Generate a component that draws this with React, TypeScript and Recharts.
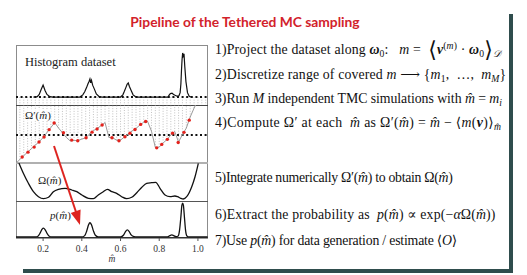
import React from 'react';
import { LineChart, ComposedChart, Line, Scatter, XAxis, YAxis, ReferenceLine } from 'recharts';

// shared m-hat axis
const M_DOMAIN: [number, number] = [0.06, 1.052];
const M_TICKS = [0.2, 0.4, 0.6, 0.8, 1.0];

// top panel: histogram of the projected dataset
const HIST_M = [
  0.15, 0.17, 0.18, 0.19, 0.195, 0.2, 0.205, 0.21, 0.22, 0.235, 0.25,
  0.39, 0.405, 0.415, 0.425, 0.432, 0.438, 0.442, 0.446, 0.45, 0.456, 0.465, 0.475, 0.49, 0.505,
  0.6, 0.612, 0.62, 0.628, 0.634, 0.64, 0.646, 0.655, 0.665, 0.68,
  0.845, 0.852, 0.858, 0.866, 0.874, 0.882, 0.892, 0.902, 0.908, 0.912, 0.915, 0.918, 0.921, 0.924, 0.928, 0.932, 0.938, 0.946, 0.955, 0.965,
];
const HIST_COUNT = [
  0, 0.01, 0.06, 0.17, 0.22, 0.27, 0.21, 0.15, 0.06, 0.01, 0,
  0, 0.05, 0.12, 0.22, 0.3, 0.36, 0.41, 0.32, 0.38, 0.27, 0.18, 0.07, 0.01, 0,
  0, 0.05, 0.13, 0.22, 0.29, 0.32, 0.24, 0.15, 0.05, 0,
  0, 0.05, 0.08, 0.09, 0.06, 0.04, 0.02, 0.03, 0.1, 0.3, 0.6, 0.85, 1.0, 0.93, 0.98, 0.7, 0.35, 0.1, 0.02, 0,
];

// TMC grid m_i and Omega'(m) read at each of them
const GRID_M = [
  0.06, 0.08, 0.1, 0.12, 0.14, 0.16, 0.18, 0.2, 0.22, 0.24, 0.26, 0.28, 0.3, 0.32, 0.34, 0.36, 0.38,
  0.4, 0.42, 0.44, 0.46, 0.48, 0.5, 0.52, 0.54, 0.56, 0.58, 0.6, 0.62, 0.64, 0.66, 0.68, 0.7, 0.72,
  0.74, 0.76, 0.78, 0.8, 0.82, 0.84, 0.86, 0.88, 0.9, 0.92, 0.94, 0.96, 0.98, 1.0, 1.02, 1.04,
];
const DERIV = [
  -0.145, -0.126, -0.106, -0.088, -0.07, -0.052, -0.034, -0.013, 0.013, 0.039, 0.064, 0.036, 0.012, -0.012, -0.03, -0.028, -0.028,
  -0.021, -0.014, 0.005, 0.023, 0.034, 0.049, 0.064, -0.012, -0.014, -0.027, -0.026, -0.01, 0.005, 0.021, 0.034, 0.052, 0.066,
  0.07, 0.02, -0.064, -0.062, -0.041, -0.023, 0.0, 0.018, -0.036, 0.003, 0.036, 0.093, 0.139, 0.18, null, null,
];

// red markers: the simulated points
const RED_M = [
  0.092, 0.122, 0.154, 0.179, 0.205, 0.231, 0.257, 0.305, 0.348, 0.379, 0.422, 0.453, 0.479, 0.505,
  0.556, 0.592, 0.623, 0.649, 0.675, 0.704, 0.73, 0.787, 0.813, 0.842, 0.869, 0.898, 0.928, 0.955,
];
const RED_V = [
  -0.113, -0.088, -0.062, -0.036, -0.01, 0.028, 0.062, 0.012, -0.026, -0.029, -0.014, 0.015, 0.031, 0.052,
  -0.014, -0.029, -0.009, 0.009, 0.029, 0.055, 0.07, -0.066, -0.048, -0.022, 0.01, -0.038, 0.014, 0.077,
];

// Omega(m)
const OMEGA_M = [
  0.075, 0.098, 0.124, 0.15, 0.176, 0.202, 0.228, 0.253, 0.279, 0.314, 0.348, 0.374, 0.4, 0.434, 0.46,
  0.485, 0.511, 0.532, 0.555, 0.58, 0.606, 0.632, 0.658, 0.684, 0.71, 0.735, 0.761, 0.782, 0.804,
  0.83, 0.856, 0.881, 0.895, 0.911, 0.924, 0.942, 0.968, 0.985, 1.002,
];
const OMEGA_V = [
  3.6, 2.57, 1.57, 0.73, 0.23, 0.03, 0.17, 0.73, 0.97, 1.07, 0.9, 0.73, 0.4, 0.07, 0.03,
  0.4, 0.73, 0.97, 0.73, 0.57, 0.23, 0.03, 0.17, 0.63, 1.17, 1.57, 1.63, 1.67, 1.07,
  0.4, 0.23, 0.3, 0.23, 0.07, 0.0, 0.23, 1.23, 2.23, 3.57,
];

// p(m)
const PROB_M = [
  0.06, 0.16, 0.175, 0.185, 0.195, 0.202, 0.21, 0.22, 0.23, 0.245,
  0.4, 0.415, 0.425, 0.435, 0.442, 0.45, 0.46, 0.47, 0.485,
  0.6, 0.615, 0.625, 0.635, 0.645, 0.655, 0.67, 0.685,
  0.84, 0.855, 0.865, 0.875, 0.887, 0.898, 0.905, 0.912, 0.917, 0.921, 0.925, 0.93, 0.936, 0.943, 0.955, 1.05,
];
const PROB_V = [
  0, 0, 0.03, 0.12, 0.23, 0.26, 0.22, 0.11, 0.03, 0,
  0, 0.04, 0.17, 0.36, 0.42, 0.36, 0.18, 0.05, 0,
  0, 0.05, 0.15, 0.21, 0.16, 0.06, 0.01, 0,
  0, 0.04, 0.06, 0.04, 0.01, 0.03, 0.2, 0.6, 0.93, 1.0, 0.93, 0.6, 0.2, 0.03, 0, 0,
];

const hist = HIST_M.map((m, i) => ({ m, v: HIST_COUNT[i] }));
const deriv = GRID_M.map((m, i) => ({ m, v: DERIV[i] }));
const red = RED_M.map((m, i) => ({ m, v: RED_V[i] }));
const omega = OMEGA_M.map((m, i) => ({ m, v: OMEGA_V[i] }));
const prob = PROB_M.map((m, i) => ({ m, v: PROB_V[i] }));

const HIST_DOMAIN: [number, number] = [-0.18, 1.18];
const DERIV_DOMAIN: [number, number] = [-0.144, 0.155];

const SERIF = "'Liberation Serif', 'DejaVu Serif', serif";
const M0 = { top: 0, right: 0, bottom: 0, left: 0 };
const abs = (left: number, top: number): React.CSSProperties => ({ position: 'absolute', left, top });
const sub: React.CSSProperties = { fontSize: '0.7em', verticalAlign: '-0.35em', lineHeight: 0 };
const sup: React.CSSProperties = { fontSize: '0.7em', verticalAlign: '0.55em', lineHeight: 0 };
const big: React.CSSProperties = { fontSize: '1.6em', lineHeight: 0, verticalAlign: '-0.12em', fontWeight: 300 };
const VLINE = { stroke: '#a8a8a8', strokeWidth: 0.7, strokeDasharray: '1 1.6' };

const MH = () => <i>m&#770;</i>;

const rowStyle = (top: number, spacing: number): React.CSSProperties => ({
  position: 'absolute', left: 215, top, whiteSpace: 'nowrap', fontFamily: SERIF, fontSize: 13.8,
  letterSpacing: spacing, lineHeight: '16px', color: '#111',
});

export default function App() {
  return (
    <div style={{ position: 'absolute', left: 0, top: 0, width: 527, height: 275, background: '#fff', overflow: 'hidden' }}>
      <div style={{ position: 'absolute', left: 0, top: 13, width: 490, textAlign: 'center', fontFamily: 'Lato, sans-serif', fontWeight: 700, fontSize: 13.8, color: '#d2222b' }}>
        Pipeline of the Tethered MC sampling
      </div>

      {/* frame */}
      <div style={{ position: 'absolute', left: 509, top: 14, width: 4, height: 258, background: '#2f4d4d' }} />
      <div style={{ position: 'absolute', left: 23, top: 269, width: 490, height: 4, background: '#2f4d4d' }} />

      {/* panel box */}
      <div style={{ position: 'absolute', left: 16, top: 45, width: 192, height: 193, border: '1px solid #8c8c8c', borderBottom: '1px solid #333', boxSizing: 'border-box' }} />
      <div style={{ position: 'absolute', left: 16, top: 104.5, width: 192, height: 1, background: '#444' }} />
      <div style={{ position: 'absolute', left: 16, top: 162, width: 192, height: 2, background: '#b0b0b0' }} />
      <div style={{ position: 'absolute', left: 16, top: 200.5, width: 192, height: 1, background: '#555' }} />

      <div style={abs(16, 45)}>
        <LineChart width={192} height={60} data={hist} margin={M0}>
          <XAxis dataKey="m" type="number" domain={M_DOMAIN} hide allowDataOverflow />
          <YAxis type="number" domain={HIST_DOMAIN} hide allowDataOverflow />
          {GRID_M.map((m) => (
            <ReferenceLine key={m} segment={[{ x: m, y: 0 }, { x: m, y: HIST_DOMAIN[0] }]} {...VLINE} />
          ))}
          <ReferenceLine y={0} stroke="#111" strokeWidth={2} strokeDasharray="2 2.6" />
          <Line dataKey="v" type="linear" stroke="#111" strokeWidth={1.2} dot={false} isAnimationActive={false} />
        </LineChart>
      </div>

      <div style={abs(16, 105)}>
        <ComposedChart width={192} height={58} data={deriv} margin={M0}>
          <XAxis dataKey="m" type="number" domain={M_DOMAIN} hide allowDataOverflow />
          <YAxis type="number" domain={DERIV_DOMAIN} hide allowDataOverflow />
          {deriv.filter((d) => d.v !== null).map((d) => (
            <ReferenceLine key={d.m} segment={[{ x: d.m, y: d.v as number }, { x: d.m, y: DERIV_DOMAIN[1] }]} {...VLINE} />
          ))}
          <ReferenceLine y={0} stroke="#111" strokeWidth={2} strokeDasharray="2 2.6" />
          <Line dataKey="v" type="linear" stroke="#9a9a9a" strokeWidth={1} dot={false} isAnimationActive={false} />
          <Scatter data={red} dataKey="v" isAnimationActive={false}
            shape={(p: any) => <circle cx={p.cx} cy={p.cy} r={1.7} fill="#e3221c" />} />
        </ComposedChart>
      </div>

      <div style={abs(16, 163)}>
        <LineChart width={192} height={38} data={omega} margin={M0}>
          <XAxis dataKey="m" type="number" domain={M_DOMAIN} hide allowDataOverflow />
          <YAxis type="number" domain={[-0.2, 3.6]} hide allowDataOverflow />
          <Line dataKey="v" type="monotone" stroke="#111" strokeWidth={1.3} dot={false} isAnimationActive={false} />
        </LineChart>
      </div>

      <div style={abs(16, 201)}>
        <LineChart width={192} height={64} data={prob} margin={M0}>
          <XAxis dataKey="m" type="number" domain={M_DOMAIN} ticks={M_TICKS} allowDataOverflow
            tickFormatter={(v: number) => v.toFixed(1)} height={27} tickSize={3} tickMargin={4}
            axisLine={{ stroke: '#333' }} tickLine={{ stroke: '#555' }}
            tick={{ fontFamily: SERIF, fontSize: 9.5, fill: '#333' }}
            label={{ value: 'm\u0302', position: 'insideBottom', offset: 3, style: { fontFamily: SERIF, fontStyle: 'italic', fontSize: 9.5, fill: '#333' } }} />
          <YAxis type="number" domain={[-0.03, 1.06]} hide allowDataOverflow />
          <Line dataKey="v" type="monotone" stroke="#111" strokeWidth={1.3} dot={false} isAnimationActive={false} />
        </LineChart>
      </div>

      {/* panel labels */}
      <div style={{ ...abs(25, 55), fontFamily: SERIF, fontSize: 12.5, color: '#222' }}>Histogram dataset</div>
      <div style={{ ...abs(25, 109), fontFamily: SERIF, fontSize: 11, color: '#222', background: 'rgba(255,255,255,0.8)' }}>Ω′(<MH />)</div>
      <div style={{ ...abs(38, 174), fontFamily: SERIF, fontSize: 11, color: '#222' }}>Ω(<MH />)</div>
      <div style={{ ...abs(50, 209), fontFamily: SERIF, fontSize: 11, color: '#222' }}><i>p</i>(<MH />)</div>

      {/* red arrow */}
      <svg width={527} height={275} style={{ position: 'absolute', left: 0, top: 0, pointerEvents: 'none' }}>
        <line x1={54} y1={146} x2={76} y2={212} stroke="#dd2420" strokeWidth={2} />
        <polygon points="80,225 80.6,209.6 70.8,212.9" fill="#dd2420" />
      </svg>

      {/* pipeline steps */}
      <div style={rowStyle(42, 0.15)}>
        1)Project the dataset along <b><i>ω</i></b><span style={sub}>0</span>:&nbsp;&nbsp;&nbsp;<i>m</i> =&nbsp; <span style={big}>⟨</span><b><i>v</i></b><span style={sup}>(<i>m</i>)</span> · <b><i>ω</i></b><span style={sub}>0</span><span style={big}>⟩</span><span style={sub}><i>𝒟</i></span>
      </div>
      <div style={rowStyle(67, 0.15)}>
        2)Discretize range of covered <i>m</i> ⟶ {'{'}<i>m</i><span style={sub}>1</span>,&nbsp; …,&nbsp; <i>m</i><span style={sub}><i>M</i></span>{'}'}
      </div>
      <div style={rowStyle(91, -0.05)}>
        3)Run <i>M</i> independent TMC simulations with <MH /> = <i>m</i><span style={sub}><i>i</i></span>
      </div>
      <div style={rowStyle(115, 0.33)}>
        4)Compute Ω′ at each&nbsp; <MH /> as Ω′(<MH />) = <MH /> − ⟨<i>m</i>(<b><i>v</i></b>)⟩<span style={sub}><MH /></span>
      </div>
      <div style={rowStyle(170, -0.3)}>
        5)Integrate numerically Ω′(<MH />) to obtain Ω(<MH />)
      </div>
      <div style={rowStyle(207, 0.15)}>
        6)Extract the probability as&nbsp; <i>p</i>(<MH />) ∝ exp(−<i>α</i>Ω(<MH />))
      </div>
      <div style={rowStyle(233, -0.2)}>
        7)Use <i>p</i>(<MH />) for data generation / estimate ⟨<i>O</i>⟩
      </div>
    </div>
  );
}
